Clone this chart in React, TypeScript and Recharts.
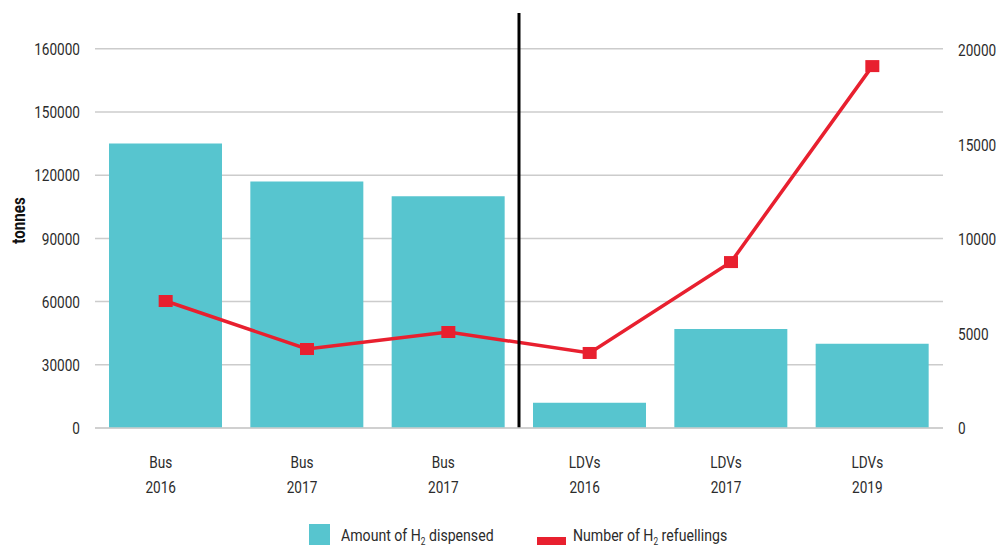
import React from "react";
import {
  ComposedChart,
  Bar,
  Line,
  XAxis,
  YAxis,
  CartesianGrid,
  ReferenceLine,
} from "recharts";

const vehicleTypes = ["Bus", "Bus", "Bus", "LDVs", "LDVs", "LDVs"];
const years = ["2016", "2017", "2017", "2016", "2017", "2019"];
// tonnes of H2 dispensed (left axis)
const amountDispensed = [135000, 117000, 110000, 12000, 47000, 40000];
// number of refuellings (right axis)
const refuellings = [6720, 4180, 5080, 3970, 8780, 19150];

const leftTicks = [0, 30000, 60000, 90000, 120000, 150000, 180000];
const leftTickLabels = ["0", "30000", "60000", "90000", "120000", "150000", "160000"];
const rightTicks = [0, 5000, 10000, 15000, 20000];

const data = vehicleTypes.map((v, i) => ({
  id: i,
  amount: amountDispensed[i],
  refuellings: refuellings[i],
}));

const FONT = "Roboto, sans-serif";
const SQUEEZE = 0.8; // fake a condensed face
const TEAL = "#57c5cf";
const RED = "#e8202f";
const TEXT = "#2b2b2b";
const PLOT_TOP = 13;

const CategoryTick = (props: any) => {
  const { x, y, payload } = props;
  const i = payload.value;
  return (
    <g transform={`translate(${x - 5},${y})`}>
      <text
        transform={`scale(${SQUEEZE},1)`}
        textAnchor="middle"
        fill={TEXT}
        fontSize={17}
        fontFamily={FONT}
      >
        <tspan x={0} dy={32}>
          {vehicleTypes[i]}
        </tspan>
        <tspan x={0} dy={25}>
          {years[i]}
        </tspan>
      </text>
    </g>
  );
};

const LeftTick = (props: any) => {
  const { x, y, payload } = props;
  return (
    <g transform={`translate(${x},${y})`}>
      <text
        transform={`scale(${SQUEEZE},1)`}
        textAnchor="end"
        dy="0.36em"
        fill={TEXT}
        fontSize={17}
        fontFamily={FONT}
      >
        {leftTickLabels[leftTicks.indexOf(payload.value)]}
      </text>
    </g>
  );
};

const RightTick = (props: any) => {
  const { x, y, payload } = props;
  return (
    <g transform={`translate(${x},${y})`}>
      <text
        transform={`scale(${SQUEEZE},1)`}
        textAnchor="start"
        dy="0.36em"
        fill={TEXT}
        fontSize={17}
        fontFamily={FONT}
      >
        {payload.value}
      </text>
    </g>
  );
};

const SquareDot = (props: any) => {
  const { cx, cy } = props;
  if (cx == null || cy == null) return null;
  return <rect x={cx - 7} y={cy - 6} width={14} height={12} fill={RED} />;
};

const TonnesLabel = (props: any) => {
  const vb = props.viewBox || {};
  const cy = (vb.y ?? PLOT_TOP) + (vb.height ?? 415) / 2;
  return (
    <g transform={`translate(18,${cy}) rotate(-90)`}>
      <text
        transform={`scale(${SQUEEZE},1)`}
        textAnchor="middle"
        dy="0.36em"
        fontSize={19}
        fontWeight="bold"
        fill="#111"
        fontFamily={FONT}
      >
        tonnes
      </text>
    </g>
  );
};

const GridLine = (props: any) => {
  const { x1, x2, y1, y2, stroke, strokeWidth } = props;
  if (y1 <= PLOT_TOP + 1) return null;
  return <line x1={x1} x2={x2} y1={y1} y2={y2} stroke={stroke} strokeWidth={strokeWidth} />;
};

const legendText: React.CSSProperties = {
  position: "absolute",
  fontFamily: FONT,
  fontSize: 17,
  color: TEXT,
  whiteSpace: "nowrap",
  transform: "scaleX(0.83)",
  transformOrigin: "left center",
  lineHeight: "21px",
  top: 1,
};

export default function App() {
  return (
    <div style={{ position: "absolute", left: 0, top: 0, width: 999, height: 549 }}>
      <ComposedChart
        width={999}
        height={549}
        data={data}
        margin={{ top: PLOT_TOP, right: 0, bottom: 41, left: 0 }}
      >
        <CartesianGrid
          yAxisId="left"
          vertical={false}
          stroke="#cccccc"
          strokeWidth={1.5}
          horizontal={(p: any) => <GridLine key={p.key} {...p} />}
        />
        <XAxis
          dataKey="id"
          height={80}
          tick={<CategoryTick />}
          tickLine={false}
          axisLine={{ stroke: "#cccccc", strokeWidth: 1.5 }}
          interval={0}
        />
        <YAxis
          yAxisId="left"
          width={95}
          domain={[0, 197000]}
          ticks={leftTicks}
          interval={0}
          axisLine={false}
          tickLine={false}
          tickMargin={9}
          tick={<LeftTick />}
          label={<TonnesLabel />}
        />
        <YAxis
          yAxisId="right"
          orientation="right"
          width={56}
          domain={[0, 21960]}
          ticks={rightTicks}
          interval={0}
          axisLine={false}
          tickLine={false}
          tickMargin={9}
          tick={<RightTick />}
        />
        <Bar
          yAxisId="left"
          dataKey="amount"
          fill={TEAL}
          barSize={113}
          isAnimationActive={false}
        />
        <Line
          yAxisId="right"
          dataKey="refuellings"
          stroke={RED}
          strokeWidth={3.5}
          dot={<SquareDot />}
          activeDot={false}
          isAnimationActive={false}
        />
        {/* divider between the bus and LDV groups */}
        <ReferenceLine
          yAxisId="left"
          x={3}
          position="start"
          stroke="#000"
          strokeWidth={3}
        />
      </ComposedChart>
      <div style={{ position: "absolute", top: 524, left: 0, width: 999, height: 21 }}>
        <span
          style={{ position: "absolute", left: 309, top: 0, width: 21, height: 21, background: TEAL }}
        />
        <span style={{ ...legendText, left: 341 }}>
          Amount of H<sub style={{ fontSize: 10 }}>2</sub> dispensed
        </span>
        <span
          style={{ position: "absolute", left: 537, top: 13, width: 29, height: 8, background: RED }}
        />
        <span style={{ ...legendText, left: 573 }}>
          Number of H<sub style={{ fontSize: 10 }}>2</sub> refuellings
        </span>
      </div>
    </div>
  );
}
